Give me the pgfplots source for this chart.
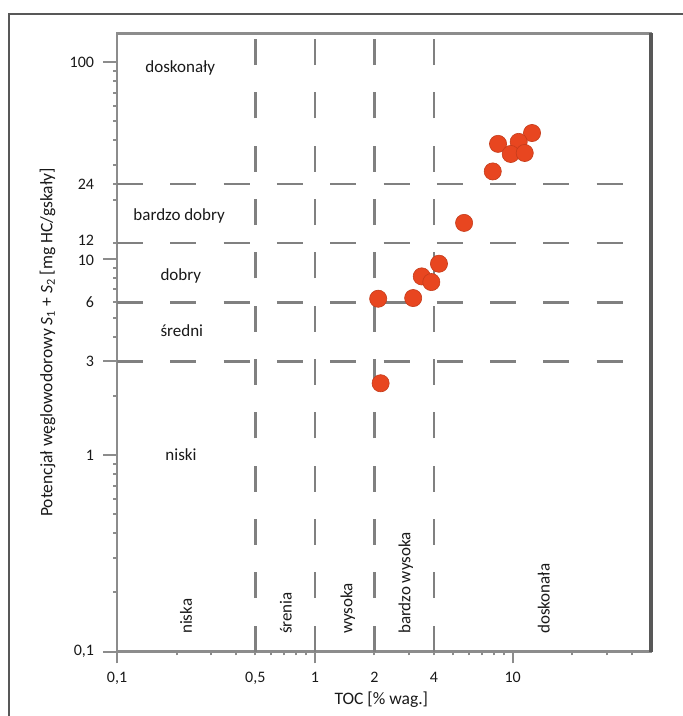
\documentclass[border=0pt]{standalone}
\usepackage{pgfplots}
\pgfplotsset{compat=1.18}
\usepackage{fontspec}
\setmainfont{Carlito}
\definecolor{axisgray}{RGB}{140,140,140}
\definecolor{dashgray}{RGB}{128,128,128}
\definecolor{darkedge}{RGB}{88,88,88}
\definecolor{pt}{RGB}{232,70,32}
\definecolor{txt}{RGB}{25,25,25}
\newcommand{\lf}{\fontsize{16bp}{19bp}\selectfont}
\newcommand{\tf}{\fontsize{17bp}{20bp}\selectfont}
\newcommand{\af}{\fontsize{17.5bp}{20bp}\selectfont}
\begin{document}
\begin{tikzpicture}[font=\lf]
\begin{axis}[
  scale only axis, width=534bp, height=618bp,
  xmode=log, ymode=log,
  xmin=0.1, xmax=50, ymin=0.1, ymax=140,
  clip=false,
  axis line style={draw=axisgray, line width=2.5bp},
  tick style={draw=axisgray, line width=2bp},
  tick align=outside, tick pos=left,
  major tick length=4bp, minor tick length=4bp,
  xtick={0.1,0.5,1,2,4,10},
  xticklabels={{0,1},{0,5},1,2,4,10},
  minor xtick={0.2,0.3,0.4,0.6,0.7,0.8,0.9,3,5,6,7,8,9,20,30,40},
  ytick={0.1,1,3,6,10,12,24,100},
  yticklabels={{0,1},1,3,6,\raisebox{-2bp}[\height][\depth]{10},\raisebox{2.5bp}[\height][\depth]{12},24,100},
  minor ytick={0.2,0.3,0.4,0.5,0.6,0.7,0.8,0.9,2,4,5,7,8,9,20,30,40,50,60,70,80,90},
  extra x ticks={0.1,1,10}, extra x tick labels={},
  extra x tick style={major tick length=12bp, tick pos=left},
  extra y ticks={0.1,1,3,10,100}, extra y tick labels={},
  extra y tick style={major tick length=14bp, tick pos=left},
  tick label style={font=\lf, text=txt},
  xticklabel style={anchor=north, yshift=-13bp},
  yticklabel style={anchor=east, xshift=-15.5bp, inner ysep=1bp},
  xlabel={TOC [\% wag.]},
  ylabel={Potencjał węglowodorowy \textit{S}\textsubscript{1} + \textit{S}\textsubscript{2} [mg HC/gskały]},
  label style={font=\af, text=txt},
  xlabel style={at={(axis description cs:0.495,-0.078)}, anchor=center},
  ylabel style={at={(axis description cs:-0.130,0.50)}, anchor=center},
]
% classification dashed lines
\foreach \yy in {24,12,6,3} {
  \edef\temp{\noexpand\draw[dashgray, line width=2.6bp, dash pattern=on 26bp off 27.3bp] (axis cs:0.1,\yy) -- (axis cs:50,\yy);}
  \temp
}
\foreach \xx in {0.5,1,2,4} {
  \edef\temp{\noexpand\draw[dashgray, line width=2.6bp, dash pattern=on 26bp off 27.3bp] (axis cs:\xx,0.1) -- (axis cs:\xx,140);}
  \temp
}
% right edge darker
\draw[darkedge, line width=4bp] (rel axis cs:1,0) -- (rel axis cs:1,1);
% category texts
\node[anchor=west, text=txt, font=\tf] at (axis cs:0.1337,93.9) {doskonały};
\node[anchor=west, text=txt, font=\tf] at (axis cs:0.1163,16.4) {bardzo dobry};
\node[anchor=west, text=txt, font=\tf] at (axis cs:0.1593,8.13) {dobry};
\node[anchor=west, text=txt, font=\tf] at (axis cs:0.1593,4.29) {średni};
\node[anchor=west, text=txt, font=\tf] at (axis cs:0.1688,1.01) {niski};
\node[anchor=west, rotate=90, text=txt, font=\tf] at (axis cs:0.2232,0.118) {niska};
\node[anchor=west, rotate=90, text=txt, font=\tf] at (axis cs:0.714,0.118) {śrenia};
\node[anchor=west, rotate=90, text=txt, font=\tf] at (axis cs:1.468,0.118) {wysoka};
\node[anchor=west, rotate=90, text=txt, font=\tf] at (axis cs:2.88,0.118) {bardzo wysoka};
\node[anchor=west, rotate=90, text=txt, font=\tf] at (axis cs:14.34,0.118) {doskonała};
\addplot[only marks, mark=*, mark size=8.6bp, mark options={fill=pt, draw=pt!85!black, line width=0.6bp}] coordinates {
 (8.43,38.4) (12.52,43.6) (10.72,39.3) (9.77,34.1) (11.50,34.5) (7.93,27.8)
 (5.68,15.2) (4.24,9.42) (3.47,8.12) (3.88,7.60) (3.14,6.30) (2.09,6.25) (2.15,2.32)
};
\end{axis}
\draw[darkedge, line width=1.5bp] (-108bp,-64.5bp) -- (-108bp,637.5bp) -- (566bp,637.5bp);
\pgfresetboundingbox
\path[use as bounding box] (-117bp,-64.5bp) rectangle (566bp,651.5bp);
\end{tikzpicture}
\end{document}
